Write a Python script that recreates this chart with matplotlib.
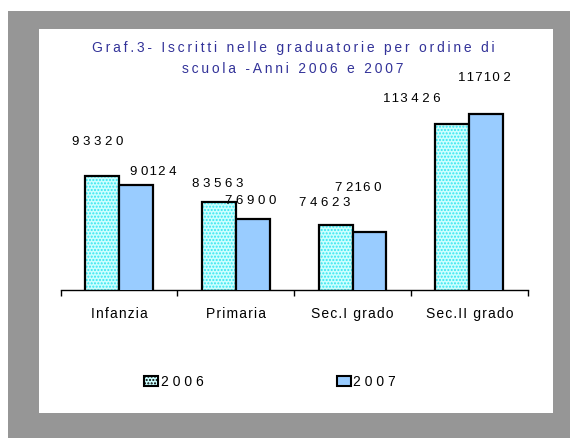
import matplotlib
matplotlib.use("Agg")
import matplotlib.pyplot as plt
from matplotlib.patches import Rectangle, Patch
import numpy as np

plt.rcParams['font.family'] = ['Liberation Sans', 'DejaVu Sans']

categories = ["Infanzia", "Primaria", "Sec.I grado", "Sec.II grado"]
series_names = ["2006", "2007"]
values_2006 = [93320, 83563, 74623, 113426]
values_2007 = [90124, 76900, 72160, 117102]
title_lines = ["Graf.3- Iscritti nelle graduatorie per ordine di", "scuola -Anni 2006 e 2007"]

# label offsets (pixels) relative to bar top-centre, as placed in the original
offsets_2006 = [(-4, 34), (-1, 18), (-11, 22), (-41, 25)]
offsets_2007 = [(17, 13), (-2, 18), (-11, 44), (-2, 36)]

HAIR = '\u200a'
THIN = '\u2009'

def spaced(s, sep=HAIR):
    return sep.join(s)

def spaced_num(v):
    s = str(v)
    out = s[0]
    for a, b in zip(s[:-1], s[1:]):
        out += (HAIR if (a == '1' or b == '1') else ' ') + b
    return out

W, H = 570, 438
fig = plt.figure(figsize=(W / 100, H / 100), dpi=100)
fig.patch.set_facecolor('white')

# gray frame and white inner panel
fig.patches.append(Rectangle((8 / W, 0), 1 - 8 / W, (H - 11) / H, transform=fig.transFigure,
                             facecolor='#969696', edgecolor='none', zorder=-2))
fig.patches.append(Rectangle((39 / W, (H - 412.7) / H), 514 / W, (412.7 - 29) / H,
                             transform=fig.transFigure, facecolor='white', edgecolor='none', zorder=-1))

ax = fig.add_axes([60.7 / W, (H - 290) / H, 467 / W, 236 / H])
ax.set_facecolor('none')
ax.patch.set_alpha(0)

x = np.arange(len(categories))
bw = 0.29
# 2006: hatched cyan
ax.bar(x - bw / 2, values_2006, bw, color='#ccffff', edgecolor='#33e6f0', hatch='.....',
       linewidth=0, zorder=2)
ax.bar(x - bw / 2, values_2006, bw, fill=False, edgecolor='black', linewidth=1.6, zorder=3)
# 2007: light blue
ax.bar(x + bw / 2, values_2007, bw, color='#99ccff', edgecolor='black', linewidth=1.6, zorder=3)

ax.set_xlim(-0.5, 3.5)
ax.set_ylim(50000, 140000)

for i in range(len(categories)):
    for vals, offs, sgn in ((values_2006, offsets_2006, -1), (values_2007, offsets_2007, 1)):
        ax.annotate(spaced_num(vals[i]), xy=(x[i] + sgn * bw / 2, vals[i]),
                    xytext=offs[i], textcoords='offset pixels',
                    ha='center', va='center', fontsize=9.5, color='black', zorder=5)

for s in ['top', 'right', 'left']:
    ax.spines[s].set_visible(False)
ax.spines['bottom'].set_linewidth(1.0)
ax.spines['bottom'].set_color('black')
ax.set_yticks([])
ax.set_xticks(x)
ax.set_xticklabels([spaced(c, HAIR) for c in categories], fontsize=10)
ax.tick_params(axis='x', which='major', length=0, pad=12)
ax.set_xticks(np.arange(-0.5, 3.6, 1.0), minor=True)
ax.tick_params(axis='x', which='minor', length=4, width=1, color='black', direction='out')

fig.text(293 / W, 1 - 47.7 / H, spaced(title_lines[0], THIN), ha='center', va='center',
         fontsize=10, color='#333399')
fig.text(293 / W, 1 - 69 / H, spaced(title_lines[1], THIN), ha='center', va='center',
         fontsize=10, color='#333399')

h1 = Patch(facecolor='#ccffff', edgecolor='black', hatch='.....', linewidth=1.5)
h2 = Patch(facecolor='#99ccff', edgecolor='black', linewidth=1.5)
leg = fig.legend([h1, h2], [' '.join(s) for s in series_names], ncol=2,
                 loc='center', bbox_to_anchor=(270 / W, 1 - 382 / H), frameon=False,
                 fontsize=10, handlelength=1.0, handleheight=0.8, handletextpad=0.2,
                 columnspacing=9.6)

fig.savefig('out.png', dpi=100, facecolor=fig.get_facecolor())
